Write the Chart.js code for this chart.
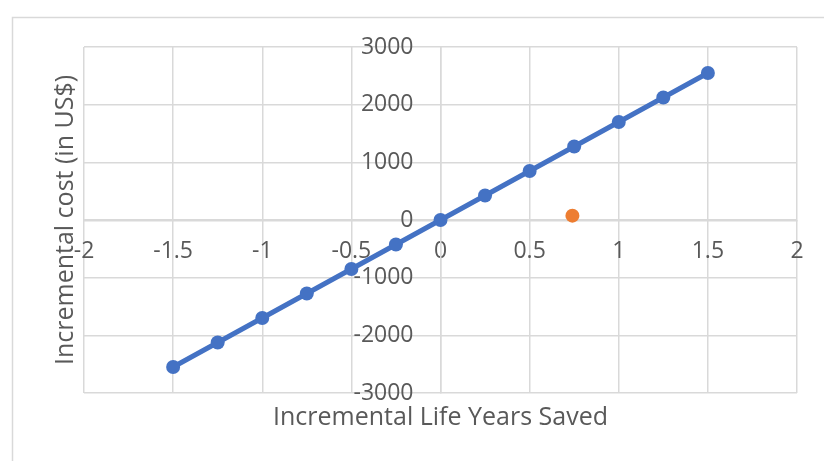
<!DOCTYPE html>
<html lang="en">
<head>
    <meta charset="UTF-8">
    <title>Incremental cost vs life years saved</title>
    <script src="https://cdn.jsdelivr.net/npm/chart.js"></script>
    <style>
        body { margin: 0; background: white; }
        #grafico { display: block; }
    </style>
</head>
<body>
    <canvas id="grafico" width="824" height="461"></canvas>
<script>
    // data
    const lifeYears = [-1.5, -1.25, -1, -0.75, -0.5, -0.25, 0, 0.25, 0.5, 0.75, 1, 1.25, 1.5];
    const costs = [-2550, -2125, -1700, -1275, -850, -425, 0, 425, 850, 1275, 1700, 2125, 2550];
    const singleX = [0.74];
    const singleY = [75];

    const xTicks = [-2, -1.5, -1, -0.5, 0, 0.5, 1, 1.5, 2];
    const yTicks = [-3000, -2000, -1000, 0, 1000, 2000, 3000];

    const xTitle = "Incremental Life Years Saved";
    const yTitle = "Incremental cost (in US$)";

    const textColor = "#595959";
    const gridColor = "#d9d9d9";

    // outer frame + axis titles (Excel style)
    const decor = {
        id: "decor",
        beforeDraw(chart) {
            const c = chart.ctx;
            c.save();
            c.strokeStyle = "#d9d9d9";
            c.lineWidth = 1.5;
            c.beginPath();
            c.moveTo(12.5, 461);
            c.lineTo(12.5, 17.5);
            c.lineTo(824, 17.5);
            c.stroke();
            c.restore();
        },
        afterDraw(chart) {
            const c = chart.ctx;
            const area = chart.chartArea;
            c.save();
            c.fillStyle = textColor;
            c.font = "25px 'Open Sans'";
            c.textAlign = "center";
            c.textBaseline = "middle";
            c.fillText(xTitle, (area.left + area.right) / 2, 418);
            c.translate(66, (area.top + area.bottom) / 2);
            c.rotate(-Math.PI / 2);
            c.fillText(yTitle, 0, 0);
            c.restore();
        }
    };

    const ctx = document.getElementById("grafico").getContext("2d");

    new Chart(ctx, {
        type: "scatter",
        data: {
            datasets: [{
                data: lifeYears.map((x, i) => ({ x: x, y: costs[i] })),
                showLine: true,
                borderColor: "#4472C4",
                backgroundColor: "#4472C4",
                borderWidth: 5,
                pointRadius: 7,
                pointBorderWidth: 0
            }, {
                data: singleX.map((x, i) => ({ x: x, y: singleY[i] })),
                showLine: false,
                borderColor: "#ED7D31",
                backgroundColor: "#ED7D31",
                pointRadius: 7,
                pointBorderWidth: 0
            }]
        },
        options: {
            responsive: false,
            animation: false,
            layout: {
                padding: { left: 84, right: 27, top: 47, bottom: 68 }
            },
            scales: {
                x: {
                    type: "linear",
                    position: "center",
                    min: -2,
                    max: 2,
                    afterBuildTicks: s => { s.ticks = xTicks.map(v => ({ value: v })); },
                    ticks: {
                        color: textColor,
                        font: { family: "'Open Sans'", size: 23 },
                        padding: 18,
                        autoSkip: false,
                        maxRotation: 0,
                        callback: v => String(v)
                    },
                    grid: { color: gridColor, lineWidth: 1.5, drawTicks: false },
                    border: { color: gridColor, width: 1.5 }
                },
                y: {
                    type: "linear",
                    position: "center",
                    min: -3000,
                    max: 3000,
                    afterBuildTicks: s => { s.ticks = yTicks.map(v => ({ value: v })); },
                    ticks: {
                        color: textColor,
                        font: { family: "'Open Sans'", size: 23 },
                        callback: v => String(v)
                    },
                    grid: { color: gridColor, lineWidth: 1.5, drawTicks: true, tickLength: 24, tickColor: "rgba(0,0,0,0)" },
                    border: { color: gridColor, width: 1.5 }
                }
            },
            plugins: {
                legend: { display: false },
                tooltip: { enabled: false }
            }
        },
        plugins: [decor]
    });
</script>
</body>
</html>
